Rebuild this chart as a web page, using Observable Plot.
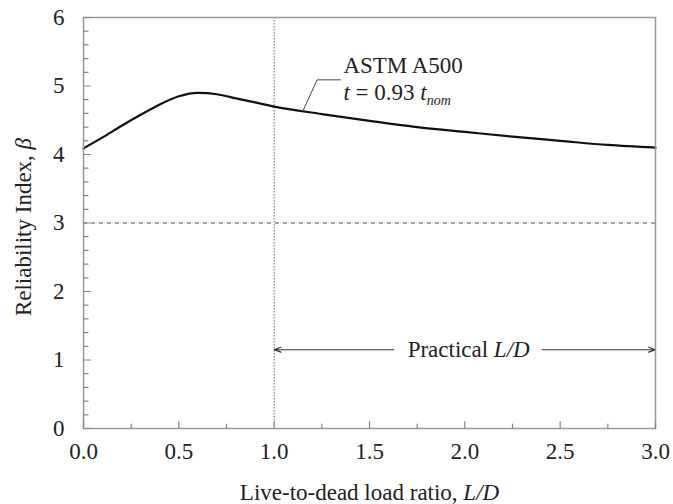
<!DOCTYPE html>
<html>
<head>
<meta charset="utf-8">
<script src="https://cdn.jsdelivr.net/npm/d3@7"></script>
<script src="https://cdn.jsdelivr.net/npm/@observablehq/plot@0.6"></script>
<style>
  html, body { margin: 0; padding: 0; background: #fff; }
</style>
</head>
<body>
<div id="chart"></div>
<script>
// Curve: reliability index vs live-to-dead load ratio
const ldRatio = [0, 0.1, 0.2, 0.3, 0.4, 0.5, 0.6, 0.7, 0.8, 0.9, 1.0, 1.25, 1.5, 1.75, 2.0, 2.25, 2.5, 2.75, 3.0];
const beta    = [4.09, 4.25, 4.42, 4.58, 4.73, 4.85, 4.90, 4.88, 4.82, 4.76, 4.70, 4.59, 4.49, 4.40, 4.33, 4.26, 4.20, 4.14, 4.10];

const xTicks = [0, 0.5, 1.0, 1.5, 2.0, 2.5, 3.0];
const xMinor = [0.25, 0.75, 1.25, 1.75, 2.25, 2.75];
const yTicks = [0, 1, 2, 3, 4, 5, 6];
const yMinor = [0.2,0.4,0.6,0.8,1.2,1.4,1.6,1.8,2.2,2.4,2.6,2.8,3.2,3.4,3.6,3.8,4.2,4.4,4.6,4.8,5.2,5.4,5.6,5.8];

const targetBeta = [3];
const practicalStart = [1.0];

// Annotation geometry (data units)
const leaderX = [1.154, 1.225, 1.347];
const leaderY = [4.655, 5.09, 5.09];
const labelLine1 = {x: 1.363, y: 5.19, text: "ASTM A500"};
const labelLine2 = {x: 1.363, y: 4.80, text: "t = 0.93 tnom"};
const practical = {x: 2.02, y: 1.15, text: "Practical L/D"};
const arrowSegs = [{x1: 1.627, x2: 1.0}, {x1: 2.405, x2: 3.0}];

const curve = ldRatio.map((x, i) => ({x, y: beta[i]}));
const leader = leaderX.map((x, i) => ({x, y: leaderY[i]}));

const FONT = "Liberation Serif, Times New Roman, serif";
const FS = 23;
const tickShape = {draw(context, l) { context.moveTo(0, 0); context.lineTo(0, -l); }};

const chart = Plot.plot({
  width: 673,
  height: 504,
  marginLeft: 83,
  marginRight: 18,
  marginTop: 17,
  marginBottom: 76,
  style: {fontFamily: FONT, fontSize: FS + "px", background: "#fff", color: "#222"},
  x: {domain: [0, 3]},
  y: {domain: [0, 6]},
  marks: [
    Plot.ruleY(targetBeta, {stroke: "#888", strokeWidth: 1.3, strokeDasharray: "4,4"}),
    Plot.ruleX(practicalStart, {stroke: "#777", strokeWidth: 1.1, strokeDasharray: "1.5,1.5"}),
    Plot.line(curve, {x: "x", y: "y", curve: "monotone-x", stroke: "#111", strokeWidth: 2.2}),
    Plot.line(leader, {x: "x", y: "y", stroke: "#444", strokeWidth: 1}),
    Plot.arrow(arrowSegs, {x1: "x1", x2: "x2", y1: () => practical.y, y2: () => practical.y, stroke: "#333", strokeWidth: 1.2, headLength: 9, headAngle: 40}),
    Plot.text([labelLine1], {x: "x", y: "y", text: "text", textAnchor: "start", lineAnchor: "bottom", fontFamily: FONT, fontSize: FS, fill: "#222"}),
    Plot.text([labelLine2], {x: "x", y: "y", text: "text", textAnchor: "start", lineAnchor: "bottom", fontFamily: FONT, fontSize: FS, fill: "#222"}),
    Plot.text([practical], {x: "x", y: "y", text: "text", textAnchor: "middle", lineAnchor: "middle", fontFamily: FONT, fontSize: FS, fill: "#222"}),
    Plot.frame({stroke: "#999", strokeWidth: 1.5}),
    Plot.vector(xTicks, {x: d => d, frameAnchor: "bottom", length: 7, rotate: 0, anchor: "start", shape: tickShape, stroke: "#888", strokeWidth: 1.2}),
    Plot.vector(xMinor, {x: d => d, frameAnchor: "bottom", length: 4.5, rotate: 0, anchor: "start", shape: tickShape, stroke: "#888", strokeWidth: 1.2}),
    Plot.vector(yTicks, {y: d => d, frameAnchor: "left", length: 7, rotate: 90, anchor: "start", shape: tickShape, stroke: "#888", strokeWidth: 1.2}),
    Plot.vector(yMinor, {y: d => d, frameAnchor: "left", length: 4.5, rotate: 90, anchor: "start", shape: tickShape, stroke: "#888", strokeWidth: 1.2}),
    Plot.axisX({ticks: xTicks, tickSize: 0, tickPadding: 14, tickFormat: d3.format(".1f"), label: null, fontFamily: FONT, fontSize: FS, fill: "#222"}),
    Plot.axisY({ticks: yTicks, tickSize: 0, tickPadding: 19, tickFormat: d3.format("d"), label: null, fontFamily: FONT, fontSize: FS, fill: "#222"}),
    Plot.text(["Live-to-dead load ratio, L/D"], {frameAnchor: "bottom", dy: 71, lineAnchor: "bottom", textAnchor: "middle", fontFamily: FONT, fontSize: FS, fill: "#222"}),
    Plot.text(["Reliability Index, β"], {frameAnchor: "left", dx: -53, dy: 4, rotate: -90, lineAnchor: "bottom", textAnchor: "middle", fontFamily: FONT, fontSize: FS, fill: "#222"})
  ]
});

// Rich text: italics and subscript
const NS = "http://www.w3.org/2000/svg";
function rich(el, parts) {
  while (el.firstChild) el.removeChild(el.firstChild);
  for (const p of parts) {
    const t = document.createElementNS(NS, "tspan");
    t.textContent = p.t;
    if (p.i) t.setAttribute("font-style", "italic");
    if (p.fs) t.setAttribute("font-size", p.fs);
    if (p.dy != null) t.setAttribute("dy", p.dy);
    el.appendChild(t);
  }
}
chart.querySelectorAll("text").forEach(el => {
  const s = el.textContent;
  if (s === "Live-to-dead load ratio, L/D") rich(el, [{t: "Live-to-dead load ratio, "}, {t: "L/D", i: true}]);
  else if (s === "Reliability Index, β") rich(el, [{t: "Reliability Index, "}, {t: "β", i: true}]);
  else if (s === "Practical L/D") rich(el, [{t: "Practical "}, {t: "L/D", i: true}]);
  else if (s === "t = 0.93 tnom") rich(el, [{t: "t", i: true}, {t: " = 0.93 "}, {t: "t", i: true}, {t: "nom", i: true, fs: 14, dy: 5}]);
});

document.getElementById("chart").appendChild(chart);
</script>
</body>
</html>
